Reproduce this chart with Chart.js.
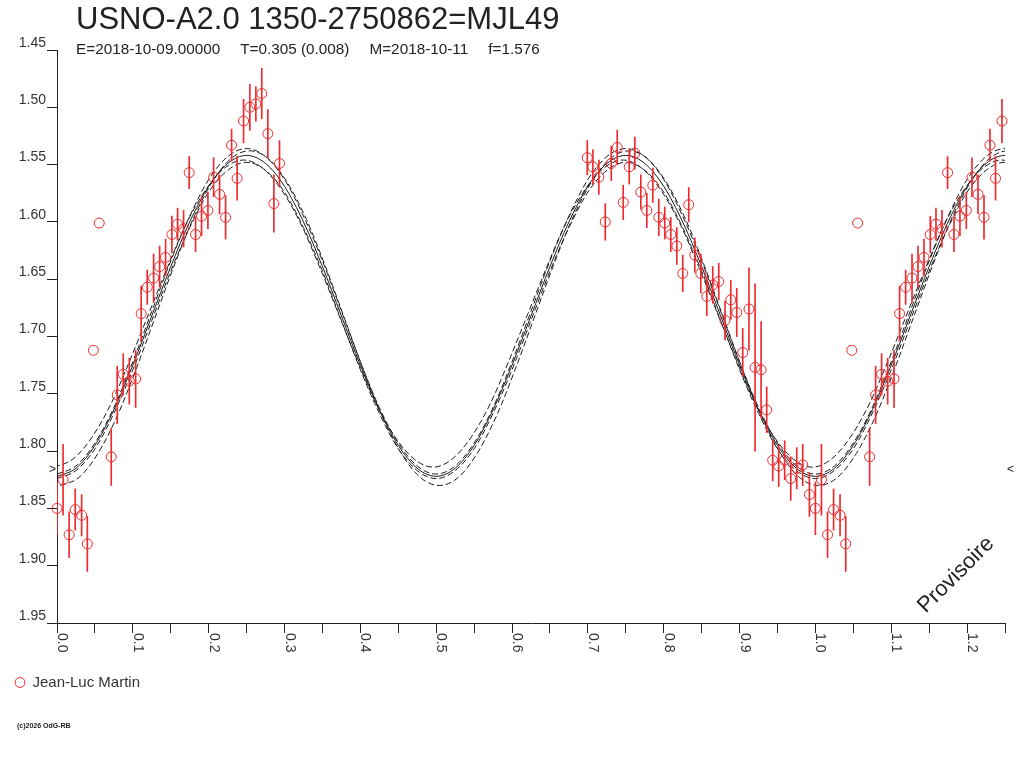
<!DOCTYPE html>
<html>
<head>
<meta charset="utf-8">
<script src="https://cdn.jsdelivr.net/npm/chart.js@4.4.1/dist/chart.umd.min.js"></script>
<style>
html, body { margin: 0; padding: 0; background: #ffffff; }
canvas { display: block; }
</style>
</head>
<body>
<canvas id="c" width="1024" height="768"></canvas>
<script>
// ---------- texts ----------
const titleText = 'USNO-A2.0 1350-2750862=MJL49';
const subtitleParts = ['E=2018-10-09.00000', 'T=0.305 (0.008)', 'M=2018-10-11', 'f=1.576'];
const observerName = 'Jean-Luc Martin';
const footerText = '(c)2026 OdG-RB';
const watermarkText = 'Provisoire';

// ---------- tick labels ----------
const xTickLabels = ['0.0', '0.1', '0.2', '0.3', '0.4', '0.5', '0.6', '0.7', '0.8', '0.9', '1.0', '1.1', '1.2'];
const yTickLabels = ['1.45', '1.50', '1.55', '1.60', '1.65', '1.70', '1.75', '1.80', '1.85', '1.90', '1.95'];

// ---------- observations (phase, magnitude, error) ----------
const obsPhase = [
  0.000, 0.008, 0.016, 0.024, 0.0325, 0.040, 0.048, 0.0557, 0.0715, 0.0794,
  0.0873, 0.0953, 0.1037, 0.111, 0.119, 0.1274, 0.1353, 0.1432, 0.1515, 0.159,
  0.1669, 0.1743, 0.1827, 0.1906, 0.199, 0.2065, 0.2144, 0.2223, 0.2302, 0.2375,
  0.246, 0.2543, 0.2622, 0.270, 0.278, 0.286, 0.2934,
  0.6992, 0.7066, 0.7145, 0.7229, 0.7308, 0.7387, 0.7466, 0.7545, 0.7619, 0.7698,
  0.7777, 0.7856, 0.7935, 0.8014, 0.8093, 0.8173, 0.8251, 0.833, 0.841, 0.8489,
  0.8568, 0.8647, 0.8726, 0.8808, 0.8884, 0.8963, 0.9042, 0.9124, 0.9205, 0.9284,
  0.9358, 0.9437, 0.9516, 0.9595, 0.9675, 0.9754, 0.9833, 0.9921
];
const obsMag = [
  1.850, 1.825, 1.873, 1.851, 1.856, 1.881, 1.712, 1.601, 1.805, 1.751,
  1.733, 1.739, 1.737, 1.680, 1.657, 1.649, 1.639, 1.631, 1.611, 1.602,
  1.606, 1.557, 1.611, 1.595, 1.590, 1.561, 1.576, 1.596, 1.533, 1.562,
  1.512, 1.500, 1.497, 1.488, 1.523, 1.584, 1.549,
  1.544, 1.552, 1.561, 1.600, 1.549, 1.535, 1.583, 1.552, 1.540, 1.574,
  1.590, 1.568, 1.596, 1.601, 1.611, 1.621, 1.645, 1.585, 1.629, 1.645,
  1.665, 1.655, 1.652, 1.686, 1.668, 1.679, 1.714, 1.676, 1.727, 1.729,
  1.764, 1.808, 1.813, 1.808, 1.824, 1.815, 1.812, 1.838
];
const obsErr = [
  0.023, 0.031, 0.020, 0.018, 0.018, 0.024, null, null, 0.025, 0.025,
  0.018, 0.020, 0.025, 0.024, 0.015, 0.021, 0.018, 0.016, 0.016, 0.014,
  0.016, 0.014, 0.015, 0.017, 0.016, 0.017, 0.017, 0.019, 0.014, 0.019,
  0.019, 0.020, 0.015, 0.022, 0.021, 0.025, 0.020,
  0.015, 0.015, 0.015, 0.016, 0.015, 0.015, 0.015, 0.015, 0.014, 0.015,
  0.015, 0.015, 0.016, 0.014, 0.015, 0.016, 0.016, 0.015, 0.015, 0.017,
  0.017, 0.016, 0.016, 0.017, 0.017, 0.021, 0.021, 0.036, 0.073, 0.042,
  0.020, 0.018, 0.018, 0.017, 0.019, 0.018, 0.018, 0.019
];

// ---------- fitted light curves, one half-period (phase 0 .. 0.5) ----------
const fitPhase = [0, 0.025, 0.05, 0.075, 0.1, 0.125, 0.15, 0.175, 0.2, 0.225, 0.25,
  0.275, 0.3, 0.325, 0.35, 0.375, 0.4, 0.425, 0.45, 0.475, 0.5];
const fitMid = [1.822, 1.815, 1.795, 1.764, 1.725, 1.682, 1.639, 1.600, 1.569, 1.549, 1.542,
  1.549, 1.569, 1.600, 1.639, 1.682, 1.725, 1.764, 1.795, 1.815, 1.822];
const fitUpper = [1.820, 1.813, 1.793, 1.762, 1.722, 1.678, 1.634, 1.595, 1.563, 1.543, 1.536,
  1.543, 1.563, 1.595, 1.634, 1.678, 1.722, 1.762, 1.793, 1.813, 1.820];
const fitLower = [1.824, 1.817, 1.798, 1.767, 1.729, 1.686, 1.643, 1.605, 1.574, 1.555, 1.548,
  1.555, 1.574, 1.605, 1.643, 1.686, 1.729, 1.767, 1.798, 1.817, 1.824];
const fitWide = [1.830, 1.823, 1.802, 1.770, 1.729, 1.684, 1.639, 1.598, 1.566, 1.545, 1.538,
  1.545, 1.566, 1.598, 1.639, 1.684, 1.729, 1.770, 1.802, 1.823, 1.830];
const fitNarrow = [1.814, 1.807, 1.788, 1.759, 1.721, 1.680, 1.639, 1.601, 1.572, 1.553, 1.546,
  1.553, 1.572, 1.601, 1.639, 1.680, 1.721, 1.759, 1.788, 1.807, 1.814];
const fitWideShift = 0.004;
const fitNarrowShift = -0.004;
const fitPeriod = 0.5;

const minMarkerMag = 1.816;
const phaseMax = 1.25;

// ---------- build library data ----------
const RED = '#ee2a2e';
const INK = '#1a1a1a';

const pointData = [];
const errData = [];
obsPhase.forEach((p, i) => {
  [0, 1].forEach(k => {
    const px = p + k;
    if (px > phaseMax) return;
    pointData.push({ x: px, y: obsMag[i] });
    if (obsErr[i] != null) {
      errData.push({ x: px, y: [obsMag[i] - obsErr[i], obsMag[i] + obsErr[i]] });
    }
  });
});

function curveData(values, shift) {
  const out = [];
  for (let k = 0; k < 3; k++) {
    fitPhase.forEach((p, i) => {
      if (k > 0 && i === 0) return;
      const px = p + k * fitPeriod + shift;
      if (px > phaseMax + 0.03) return;
      out.push({ x: px, y: values[i] });
    });
  }
  return out;
}

function curveSet(values, shift, dashed) {
  return {
    type: 'line',
    label: 'fit',
    data: curveData(values, shift),
    borderColor: INK,
    borderWidth: 1,
    borderDash: dashed ? [6, 3] : [],
    pointRadius: 0,
    pointHoverRadius: 0,
    fill: false,
    cubicInterpolationMode: 'monotone',
    order: 2
  };
}

function yLabelFor(v) {
  const hit = yTickLabels.find(l => Math.abs(parseFloat(l) - v) < 1e-6);
  return hit !== undefined ? hit : v.toFixed(2);
}

const FONT = '"Liberation Sans", Arial, sans-serif';
Chart.defaults.font.family = FONT;

const decor = {
  id: 'decor',
  afterDraw(chart) {
    const { ctx, chartArea, scales } = chart;
    const xs = scales.x, ys = scales.y;
    ctx.save();
    // title
    ctx.fillStyle = '#222';
    ctx.textAlign = 'left';
    ctx.textBaseline = 'alphabetic';
    ctx.font = '31px ' + FONT;
    ctx.fillText(titleText, 76, 29);
    // subtitle
    ctx.font = '15.3px ' + FONT;
    let sx = 76;
    subtitleParts.forEach(part => {
      ctx.fillText(part, sx, 54);
      sx += ctx.measureText(part).width + 20;
    });
    // rotated x tick labels
    ctx.fillStyle = '#333';
    ctx.font = '14px ' + FONT;
    xTickLabels.forEach(lbl => {
      const px = xs.getPixelForValue(parseFloat(lbl));
      ctx.save();
      ctx.translate(px + 1, chartArea.bottom + 10);
      ctx.rotate(Math.PI / 2);
      ctx.textAlign = 'left';
      ctx.textBaseline = 'alphabetic';
      ctx.fillText(lbl, 0, 0);
      ctx.restore();
    });
    // min markers
    const my = ys.getPixelForValue(minMarkerMag);
    ctx.font = '12px ' + FONT;
    ctx.fillStyle = '#222';
    ctx.textBaseline = 'middle';
    ctx.textAlign = 'right';
    ctx.fillText('>', chartArea.left - 1, my);
    ctx.textAlign = 'left';
    ctx.fillText('<', chartArea.right + 2, my);
    // watermark
    ctx.save();
    ctx.translate(956, 575);
    ctx.rotate(-Math.PI / 4);
    ctx.font = '22px ' + FONT;
    ctx.textAlign = 'center';
    ctx.textBaseline = 'middle';
    ctx.fillStyle = '#222';
    ctx.fillText(watermarkText, 0, 0);
    ctx.restore();
    // footer
    ctx.font = 'bold 7px ' + FONT;
    ctx.fillStyle = '#222';
    ctx.textAlign = 'left';
    ctx.textBaseline = 'alphabetic';
    ctx.fillText(footerText, 17, 728);
    ctx.restore();
  }
};

new Chart(document.getElementById('c').getContext('2d'), {
  type: 'scatter',
  data: {
    datasets: [
      {
        type: 'scatter',
        label: observerName,
        data: pointData,
        borderColor: RED,
        backgroundColor: 'rgba(0,0,0,0)',
        pointStyle: 'circle',
        pointRadius: 5,
        pointHoverRadius: 5,
        borderWidth: 1,
        clip: false,
        order: 0
      },
      {
        type: 'bar',
        label: 'err',
        data: errData,
        backgroundColor: RED,
        borderWidth: 0,
        barThickness: 1,
        order: 1
      },
      curveSet(fitMid, 0, false),
      curveSet(fitUpper, 0, true),
      curveSet(fitLower, 0, true),
      curveSet(fitWide, fitWideShift, true),
      curveSet(fitNarrow, fitNarrowShift, true)
    ]
  },
  options: {
    responsive: false,
    animation: false,
    devicePixelRatio: 1,
    events: [],
    layout: { padding: { top: 50, left: 0, right: 19, bottom: 68 } },
    plugins: {
      tooltip: { enabled: false },
      title: { display: false },
      legend: {
        position: 'bottom',
        align: 'start',
        labels: {
          filter: item => item.datasetIndex === 0,
          usePointStyle: true,
          boxWidth: 10,
          boxHeight: 7,
          padding: 15,
          color: '#333',
          font: { size: 15 }
        }
      }
    },
    scales: {
      x: {
        type: 'linear',
        min: 0,
        max: phaseMax,
        offset: false,
        grid: { offset: false, drawOnChartArea: false, drawTicks: true, tickLength: 10, color: '#222' },
        border: { color: '#222' },
        ticks: { display: false, stepSize: 0.05, maxTicksLimit: 100, autoSkip: false },
        afterFit(s) { s.height = 37; }
      },
      y: {
        type: 'linear',
        reverse: true,
        min: 1.45,
        max: 1.95,
        grid: { drawOnChartArea: false, drawTicks: true, tickLength: 10, color: '#222' },
        border: { color: '#222' },
        ticks: {
          stepSize: 0.05,
          maxTicksLimit: 100,
          autoSkip: false,
          padding: 1,
          labelOffset: -7,
          color: '#333',
          font: { size: 14 },
          callback: v => yLabelFor(v)
        },
        afterFit(s) { s.width = 57; }
      }
    }
  },
  plugins: [decor]
});
</script>
</body>
</html>
